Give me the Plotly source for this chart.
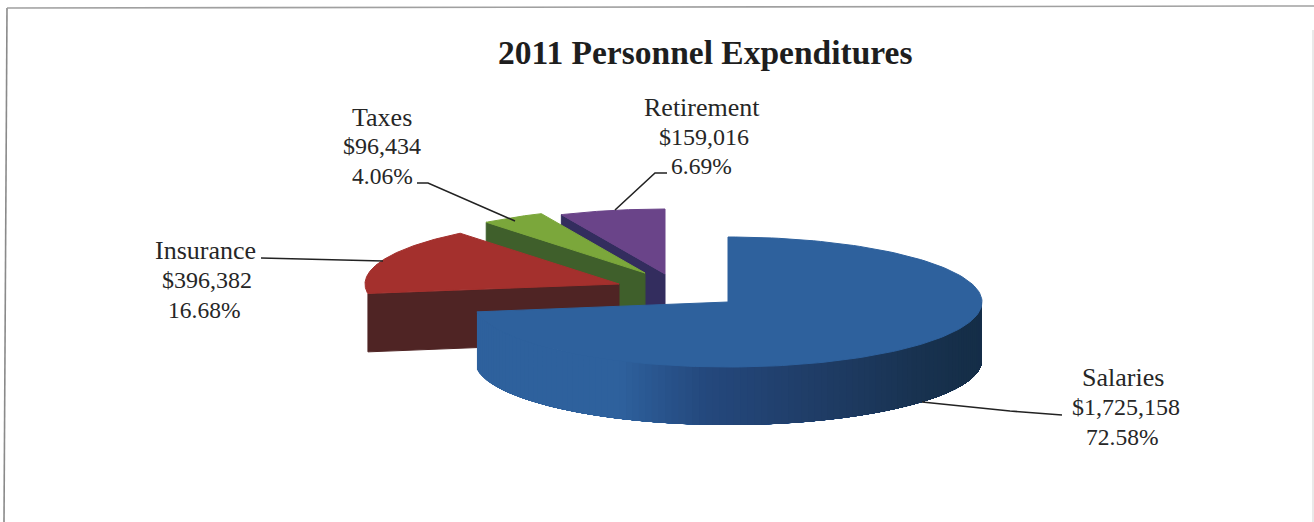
import numpy as np
import plotly.graph_objects as go

# Expenditure data, clockwise from twelve o'clock
categories = ["Salaries", "Insurance", "Taxes", "Retirement"]
amounts = [1725158, 396382, 96434, 159016]
chart_title = "2011 Personnel Expenditures"

# Slice styling
top_colors = ["#2E619D", "#A4302D", "#7BA73B", "#6A4489"]
wall_colors = ["#2E619D", "#4F2424", "#3F5F2B", "#332D5E"]
apexes = [(728, 302), (619, 284), (645, 273), (665, 274)]  # exploded slice tips
label_anchors = [
    [(1123, 377), (1126, 407), (1122, 437)],
    [(205, 250), (207, 280), (204, 310)],
    [(382, 117), (382, 146), (382, 176)],
    [(702, 107), (704, 137), (701, 166)],
]
label_sizes = [26, 24, 23.5]  # name, amount, share
leaders = [
    ([922, 1010, 1062], [402, 411, 415]),
    ([261, 383], [258, 261]),
    ([417, 428, 515], [183, 183, 221]),
    ([667, 655, 615], [173, 173, 210]),
]

RX, RY, DEPTH = 254, 65, 58
INK = "#262626"
SERIF = "Liberation Serif, Times New Roman, serif"

total = sum(amounts)
edges = np.cumsum([0] + amounts) / total * 2 * np.pi


def rim(apex, theta):
    """Project a clockwise angle from twelve o'clock onto the tilted disc."""
    return apex[0] + RX * np.sin(theta), apex[1] - RY * np.cos(theta)


def polygon(xs, ys, color, stroke=1):
    return go.Scatter(
        x=list(xs), y=list(ys), mode="lines", fill="toself", fillcolor=color,
        line=dict(color=color, width=stroke), hoverinfo="skip", showlegend=False,
    )


def blue_shade(theta):
    """Wall shading for the large slice: dark on the right, lit at the left."""
    stops_t = np.radians([90, 112, 133, 164, 186, 206, 262])
    stops = np.array([[21, 45, 72], [21, 46, 72], [24, 50, 80], [32, 62, 105],
                      [36, 72, 125], [46, 97, 157], [46, 97, 157]])
    r, g, b = (np.interp(theta, stops_t, stops[:, i]) for i in range(3))
    return f"rgb({r:.0f},{g:.0f},{b:.0f})"


fig = go.Figure()

# Paint back to front so nearer slices cover the farther ones
for i in [3, 2, 1, 0]:
    apex = apexes[i]
    t0, t1 = edges[i], edges[i + 1]
    arc = np.linspace(t0, t1, 160)
    ax, ay = rim(apex, arc)

    if i == 0:
        # Curved outer wall: overlapping layers, each shorter and darker,
        # so the shading runs without seams between bands
        for far in np.linspace(t1, np.pi / 2, 110, endpoint=False):
            seg = np.linspace(np.pi / 2, far, 90)
            sx, sy = rim(apex, seg)
            fig.add_trace(polygon(
                np.r_[sx, sx[::-1], sx[0]],
                np.r_[sy, sy[::-1] + DEPTH, sy[0]],
                blue_shade(far),
                stroke=0,
            ))
    else:
        # Flat cut face along the leading radius
        ex, ey = rim(apex, t0)
        fig.add_trace(polygon(
            [apex[0], ex, ex, apex[0], apex[0]],
            [apex[1], ey, ey + DEPTH, apex[1] + DEPTH, apex[1]],
            wall_colors[i],
        ))

    fig.add_trace(polygon(
        np.r_[apex[0], ax, apex[0]], np.r_[apex[1], ay, apex[1]], top_colors[i],
    ))

# Leader lines from the labels to the slices
for lx, ly in leaders:
    fig.add_trace(go.Scatter(
        x=lx, y=ly, mode="lines", line=dict(color="#222222", width=1.6),
        hoverinfo="skip", showlegend=False,
    ))

# Page frame
for fx, fy, fc in [([7, 4], [8, 522], "#8A8A8A"),
                   ([7, 1314], [8, 6], "#A0A0A0"),
                   ([1313, 1313], [30, 522], "#E4E4E4")]:
    fig.add_trace(go.Scatter(
        x=fx, y=fy, mode="lines", line=dict(color=fc, width=1.6),
        hoverinfo="skip", showlegend=False,
    ))

# Three-line label per slice, with amounts and shares taken from the data
annotations = [dict(
    x=704.5, y=52, xref="x", yref="y", text=f"<b>{chart_title}</b>",
    showarrow=False, font=dict(family=SERIF, size=33.5, color="#1E1E1E"),
)]
for name, amount, spots in zip(categories, amounts, label_anchors):
    lines = [name, f"${amount:,}", f"{amount / total * 100:.2f}%"]
    for text, (x, y), size in zip(lines, spots, label_sizes):
        annotations.append(dict(
            x=x, y=y, xref="x", yref="y", text=text, showarrow=False,
            font=dict(family=SERIF, size=size, color=INK),
        ))

fig.update_layout(
    width=1314, height=522, margin=dict(l=0, r=0, t=0, b=0),
    paper_bgcolor="white", plot_bgcolor="white", showlegend=False,
    xaxis=dict(range=[0, 1314], visible=False, fixedrange=True),
    yaxis=dict(range=[522, 0], visible=False, fixedrange=True),
    annotations=annotations,
)

fig.write_html("out.html", config={"displayModeBar": False})
